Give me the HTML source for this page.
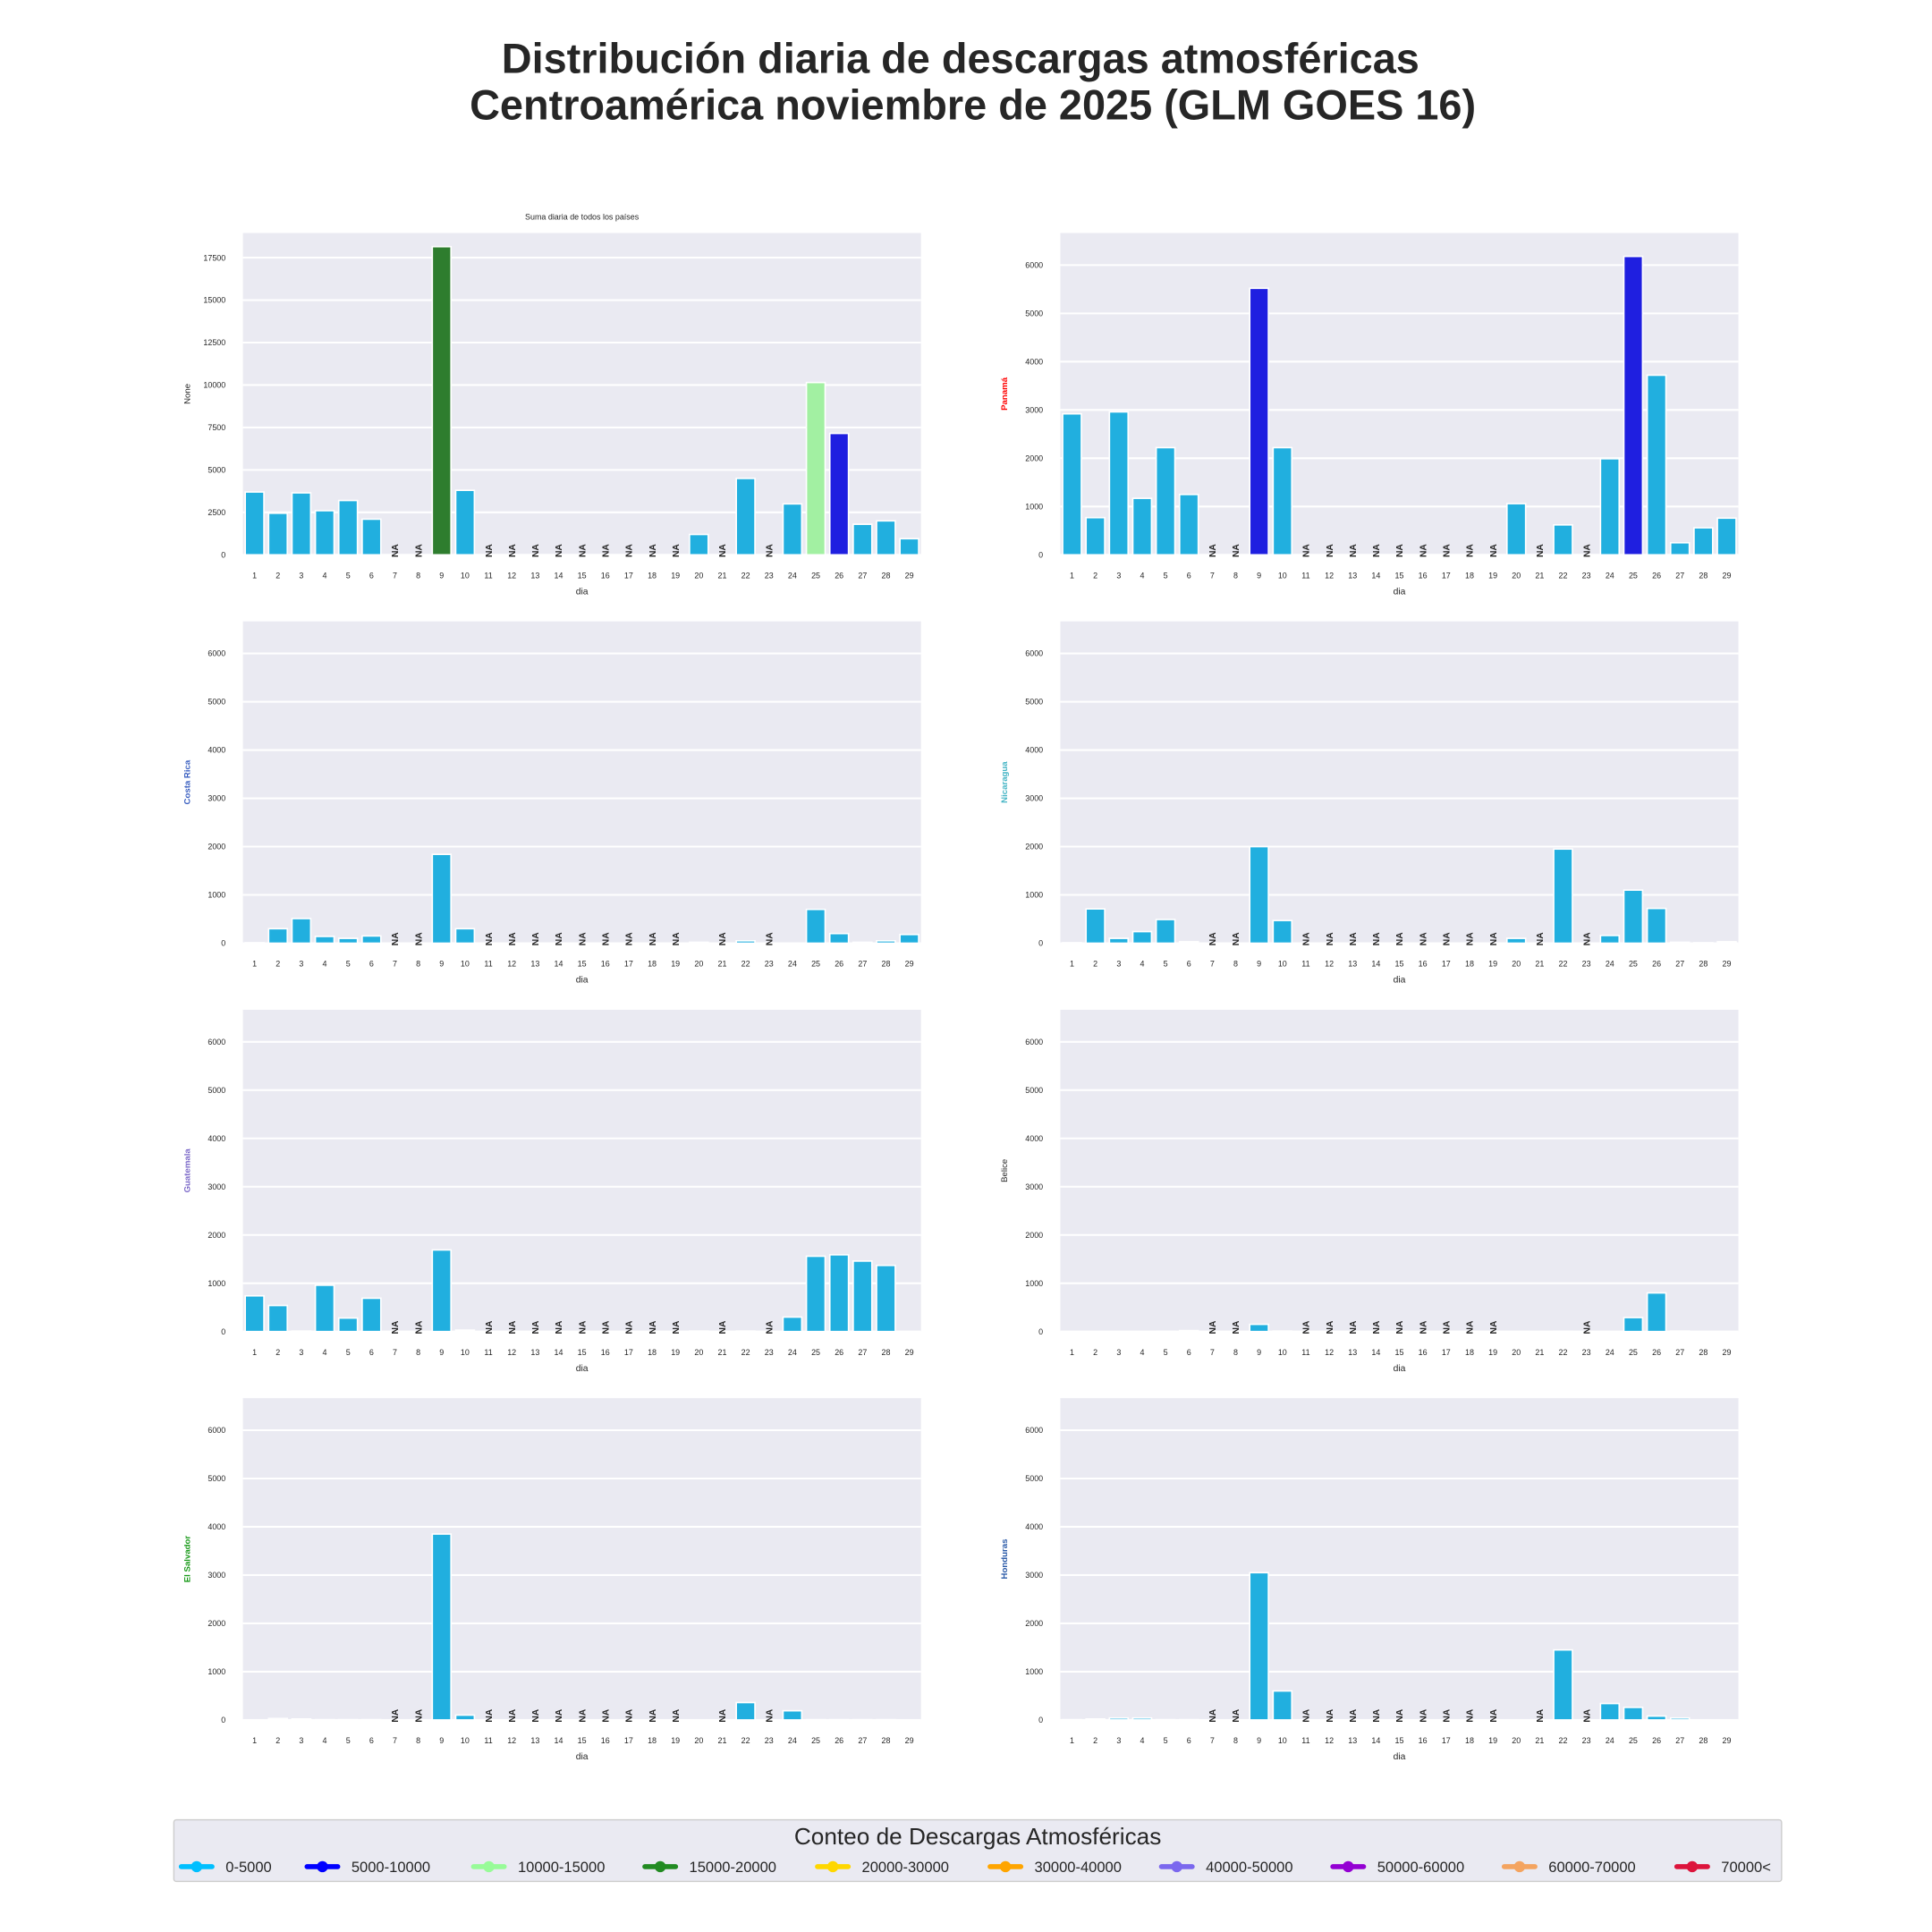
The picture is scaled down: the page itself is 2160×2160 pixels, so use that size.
<!DOCTYPE html>
<html><head><meta charset="utf-8"><style>
html,body{margin:0;padding:0;background:#fff;}
svg{display:block;font-family:"Liberation Sans",sans-serif;}
</style></head><body>
<svg id="fig" width="2160" height="2160" viewBox="0 0 1567 1567" xmlns="http://www.w3.org/2000/svg">
<text x="779" y="59" text-anchor="middle" font-size="34" font-weight="bold" fill="#262626">Distribución diaria de descargas atmosféricas</text>
<text x="789" y="97" text-anchor="middle" font-size="34" font-weight="bold" fill="#262626">Centroamérica noviembre de 2025 (GLM GOES 16)</text>
<g id="panels"></g>
<g id="legend"></g>
</svg>
<script>
const days = [1,2,3,4,5,6,7,8,9,10,11,12,13,14,15,16,17,18,19,20,21,22,23,24,25,26,27,28,29];
const N = null;
const totalVals = [3700,2450,3650,2600,3200,2100,N,N,18150,3800,N,N,N,N,N,N,N,N,N,1200,N,4500,N,3000,10150,7150,1800,2000,950];
const panamaVals = [2920,770,2960,1170,2220,1250,N,N,5520,2220,N,N,N,N,N,N,N,N,N,1060,N,620,N,1990,6180,3720,250,560,760];
const costaRicaVals = [10,300,510,140,100,150,N,N,1840,300,N,N,N,N,N,N,N,N,N,20,N,50,N,0,700,200,20,50,180];
const nicaraguaVals = [10,710,100,240,490,30,N,N,2000,470,N,N,N,N,N,N,N,N,N,100,N,1950,N,160,1100,720,20,10,30];
const guatemalaVals = [740,540,10,960,280,690,N,N,1690,30,N,N,N,N,N,N,N,N,N,10,N,10,N,300,1560,1590,1460,1370,0];
const beliceVals = [0,0,0,0,5,20,N,N,150,10,N,N,N,N,N,N,N,N,N,0,0,5,N,0,290,800,10,0,0];
const salvadorVals = [0,30,20,5,5,5,N,N,3850,100,N,N,N,N,N,N,N,N,N,0,N,360,N,190,5,5,5,5,0];
const hondurasVals = [5,20,40,40,5,5,N,N,3050,600,N,N,N,N,N,N,N,N,N,0,N,1450,N,340,260,80,40,0,0];
const totalTicks = [0,2500,5000,7500,10000,12500,15000,17500];
const countryTicks = [0,1000,2000,3000,4000,5000,6000];
const legendLabels = ["0-5000","5000-10000","10000-15000","15000-20000","20000-30000","30000-40000","40000-50000","50000-60000","60000-70000","70000<"];
const legendBounds = [0,5000,10000,15000,20000,30000,40000,50000,60000,70000];
const legendColors = ["#00bfff","#0000ff","#98fb98","#228b22","#ffd700","#ffa500","#7b68ee","#9400d3","#f4a460","#dc143c"];
const barColors = ["#21afdf","#1f1fe0","#a2f0a2","#2e7d2e","#e6c21a","#e69a1a","#7a6ad8","#8a1ac0","#e0a070","#c8243c"];

const NS = "http://www.w3.org/2000/svg";
function mk(tag, attrs, parent){const e=document.createElementNS(NS,tag);for(const k in attrs)e.setAttribute(k,attrs[k]);parent.appendChild(e);return e;}
function colorFor(v){let i=0;for(let k=0;k<legendBounds.length;k++){if(v>=legendBounds[k])i=k;}return barColors[i];}

const panels = [
 {vals:totalVals, ticks:totalTicks, ymax:18952, x:197, y:189, label:"None", lc:"#262626", lw:"normal", title:"Suma diaria de todos los países", name:"total"},
 {vals:panamaVals, ticks:countryTicks, ymax:6664, x:860, y:189, label:"Panamá", lc:"#ff0000", lw:"bold", name:"panama"},
 {vals:costaRicaVals, ticks:countryTicks, ymax:6664, x:197, y:504, label:"Costa Rica", lc:"#3a5fc0", lw:"bold", name:"costa-rica"},
 {vals:nicaraguaVals, ticks:countryTicks, ymax:6664, x:860, y:504, label:"Nicaragua", lc:"#45b5c5", lw:"bold", name:"nicaragua"},
 {vals:guatemalaVals, ticks:countryTicks, ymax:6664, x:197, y:819, label:"Guatemala", lc:"#7b68c8", lw:"bold", name:"guatemala"},
 {vals:beliceVals, ticks:countryTicks, ymax:6664, x:860, y:819, label:"Belice", lc:"#262626", lw:"normal", name:"belice"},
 {vals:salvadorVals, ticks:countryTicks, ymax:6664, x:197, y:1134, label:"El Salvador", lc:"#1a9a1a", lw:"bold", name:"el-salvador"},
 {vals:hondurasVals, ticks:countryTicks, ymax:6664, x:860, y:1134, label:"Honduras", lc:"#2a5aa8", lw:"bold", name:"honduras"}
];
const W=550, H=261;
const root=document.getElementById('panels');
panels.forEach(p=>{
  const g=mk('g',{},root);
  
  
  const bg=mk('rect',{x:p.x,y:p.y,width:W,height:H,fill:'#eaeaf2'},g);
  
  
  const yS=v=>p.y+H-v/p.ymax*H;
  const band=W/days.length;
  const xS=i=>p.x+band*i+band/2;
  p.ticks.forEach(t=>{
    const ln=mk('line',{x1:p.x,x2:p.x+W,y1:yS(t),y2:yS(t),stroke:'#fff','stroke-width':1.5},g);
    
    
    const tx=mk('text',{x:p.x-14,y:yS(t)+2.3,'text-anchor':'end','font-size':6.5,fill:'#262626'},g);
    tx.textContent=t;
    
    
  });
  days.forEach((d,i)=>{
    const v=p.vals[i];
    if(v===null){
      const na=mk('text',{x:0,y:0,'font-size':7.5,'font-weight':'bold',fill:'#262626',transform:`translate(${xS(i)+2.7},${p.y+H+2}) rotate(-90)`},g);
      na.textContent='NA';
      
      
    } else {
      const bw=band*0.8;
      const r=mk('rect',{x:xS(i)-bw/2,y:yS(v),width:bw,height:Math.max(0,p.y+H-yS(v)),fill:colorFor(v),stroke:'#fff','stroke-width':1.2},g);
      
      
    }
    const xt=mk('text',{x:xS(i),y:p.y+H+19,'text-anchor':'middle','font-size':6.5,fill:'#262626'},g);
    xt.textContent=d;
    
    
  });
  const xl=mk('text',{x:p.x+W/2,y:p.y+H+32,'text-anchor':'middle','font-size':7.5,fill:'#262626'},g);
  xl.textContent='dia';
  
  
  const yl=mk('text',{x:0,y:0,'text-anchor':'middle','font-size':7,'font-weight':p.lw,fill:p.lc,transform:`translate(${p.x-43},${p.y+H/2}) rotate(-90)`},g);
  yl.textContent=p.label;
  
  
  if(p.title){
    const st=mk('text',{x:p.x+W/2,y:p.y-11,'text-anchor':'middle','font-size':6.5,fill:'#262626'},g);
    st.textContent=p.title;
    
    
  }
});
const lg=document.getElementById('legend');
const box=mk('rect',{x:141,y:1476,width:1304,height:50,fill:'#eaeaf2',stroke:'#cccccc','stroke-width':1,rx:2},lg);


const lt=mk('text',{x:793,y:1496,'text-anchor':'middle','font-size':19,fill:'#262626'},lg);
lt.textContent='Conteo de Descargas Atmosféricas';


const legendX = [147,249,384,523,663,803,942,1081,1220,1360];
legendLabels.forEach((l,i)=>{
  const x0=legendX[i];
  const eg=mk('g',{},lg);
  
  
  mk('line',{x1:x0,x2:x0+25,y1:1514,y2:1514,stroke:legendColors[i],'stroke-width':4,'stroke-linecap':'round'},eg);
  mk('circle',{cx:x0+12.5,cy:1514,r:4.5,fill:legendColors[i]},eg);
  const t=mk('text',{x:x0+36,y:1518.5,'font-size':12,fill:'#262626'},eg);
  t.textContent=l;
});
</script>
</body></html>
